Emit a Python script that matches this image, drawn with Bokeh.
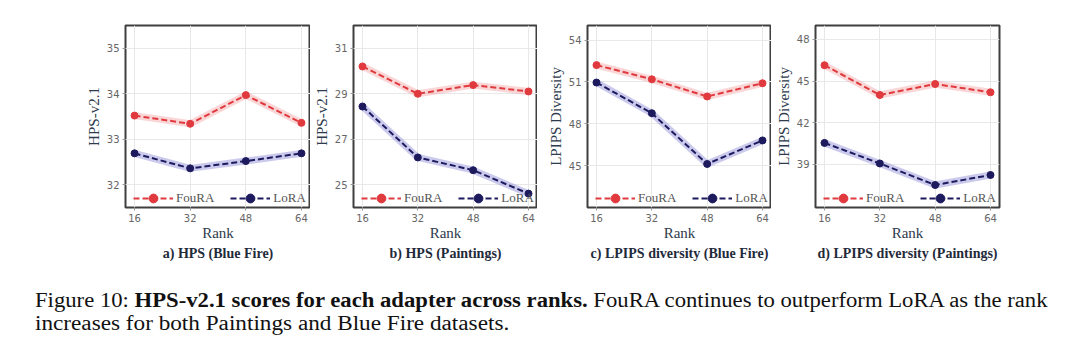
from bokeh.plotting import figure
from bokeh.layouts import row, column
from bokeh.models import Range1d, FixedTicker, Legend, LegendItem, Title, Div
from bokeh.embed import file_html
from bokeh.resources import INLINE

# ---------------- data ----------------
ranks = [16, 32, 48, 64]

hps_bluefire_foura = [33.52, 33.34, 33.97, 33.36]
hps_bluefire_lora = [32.69, 32.36, 32.52, 32.69]

hps_paintings_foura = [30.20, 29.00, 29.38, 29.10]
hps_paintings_lora = [28.44, 26.20, 25.64, 24.61]

lpips_bluefire_foura = [52.21, 51.19, 49.96, 50.91]
lpips_bluefire_lora = [50.96, 48.76, 45.12, 46.81]

lpips_paintings_foura = [46.14, 44.00, 44.79, 44.19]
lpips_paintings_lora = [40.55, 39.07, 37.52, 38.24]

titles = ["a) HPS (Blue Fire)", "b) HPS (Paintings)",
          "c) LPIPS diversity (Blue Fire)", "d) LPIPS diversity (Paintings)"]
ylabels = ["HPS-v2.1", "HPS-v2.1", "LPIPS Diversity", "LPIPS Diversity"]
yticks = [[32, 33, 34, 35], [25, 27, 29, 31], [45, 48, 51, 54], [39, 42, 45, 48]]
yranges = [(31.5, 35.5), (24.0, 32.0), (42.0, 55.05), (35.9, 49.0)]
series_names = ["FouRA", "LoRA"]

caption_label = "Figure 10:"
caption_bold = "HPS-v2.1 scores for each adapter across ranks."
caption_line1_rest = "FouRA continues to outperform LoRA as the rank"
caption_line2 = "increases for both Paintings and Blue Fire datasets."

# ---------------- style ----------------
RED = "#e03a3f"
RED_GLOW = "#f08a8c"
NAVY = "#1d1b5e"
NAVY_GLOW = "#8c8ad6"
SERIF = "Liberation Serif"
SANS = "DejaVu Sans"

layout_specs = [
    dict(left=125, fw=185, right=0),
    dict(left=40, fw=184, right=0),
    dict(left=50, fw=184, right=0),
    dict(left=44, fw=184, right=84),
]

data = [
    (hps_bluefire_foura, hps_bluefire_lora),
    (hps_paintings_foura, hps_paintings_lora),
    (lpips_bluefire_foura, lpips_bluefire_lora),
    (lpips_paintings_foura, lpips_paintings_lora),
]


def make_panel(i):
    spec = layout_specs[i]
    foura, lora = data[i]
    p = figure(frame_width=spec["fw"], frame_height=182,
               x_range=Range1d(13.4, 66.6), y_range=Range1d(*yranges[i]),
               output_backend="svg", toolbar_location=None,
               min_border_left=spec["left"], min_border_right=spec["right"],
               min_border_top=25, min_border_bottom=63)
    p.background_fill_color = "white"
    p.border_fill_color = "white"
    p.outline_line_color = "#3f3f3f"
    p.outline_line_width = 2

    p.xaxis.ticker = FixedTicker(ticks=ranks)
    p.yaxis.ticker = FixedTicker(ticks=yticks[i])
    for ax in (p.xaxis[0], p.yaxis[0]):
        ax.axis_line_color = None
        ax.major_tick_line_color = "#999999"
        ax.major_tick_out = 3
        ax.major_tick_in = 0
        ax.minor_tick_line_color = None
        ax.major_label_text_font = SANS
        ax.major_label_text_font_size = "10px"
        ax.major_label_text_color = "#666666"
        ax.axis_label_text_font = SERIF
        ax.axis_label_text_font_style = "normal"
        ax.axis_label_text_font_size = "15px"
        ax.axis_label_text_color = "#2e3b4c"
    p.xaxis.axis_label = "Rank"
    p.xaxis.major_label_standoff = 3
    p.xaxis.axis_label_standoff = 0
    p.yaxis.axis_label = ylabels[i]
    p.yaxis.major_label_standoff = 3
    p.yaxis.axis_label_standoff = 2

    p.grid.grid_line_color = "#e8e8e8"
    p.grid.grid_line_width = 1

    # glow bands
    p.line(ranks, foura, line_color=RED_GLOW, line_width=7, line_alpha=0.35)
    p.line(ranks, lora, line_color=NAVY_GLOW, line_width=7, line_alpha=0.45)
    # dashed lines + markers
    lf = p.line(ranks, foura, line_color=RED, line_width=2, line_dash="6 3")
    sf = p.scatter(ranks, foura, size=7, fill_color=RED, line_color=RED)
    ll = p.line(ranks, lora, line_color=NAVY, line_width=2, line_dash="6 3")
    sl = p.scatter(ranks, lora, size=7, fill_color=NAVY, line_color=NAVY)

    legend = Legend(items=[LegendItem(label=series_names[0], renderers=[lf, sf]),
                           LegendItem(label=series_names[1], renderers=[ll, sl])],
                    location=(8, -2), orientation="horizontal",
                    background_fill_alpha=0, border_line_alpha=0,
                    padding=0, margin=0, spacing=16,
                    glyph_width=40, glyph_height=22, label_height=22,
                    label_standoff=3,
                    label_text_font=SERIF, label_text_font_size="13px",
                    label_text_color="#555555")
    p.add_layout(legend)

    t = Title(text=titles[i], align="center", text_font=SERIF,
              text_font_style="bold", text_font_size="14px",
              text_color="#1f2a3a", standoff=0)
    p.add_layout(t, "below")
    return p


panels = [make_panel(i) for i in range(4)]


def line_style(scale):
    return (f"white-space: nowrap; transform: scaleX({scale}); "
            "transform-origin: 0 0; height: 23px;")


caption_html = (
    '<div style="font-family: \'Liberation Serif\', serif; font-size: 20px; '
    'line-height: 23px; color: #111; padding-top: 14px; padding-left: 30px;">'
    f'<div style="{line_style(1.134)}">'
    f'{caption_label} <b>{caption_bold}</b> {caption_line1_rest}</div>'
    f'<div style="{line_style(1.16)}">{caption_line2}</div>'
    '</div>'
)
caption = Div(text=caption_html, width=1080, height=79)

layout = column(row(*panels, spacing=0), caption, spacing=0)

open("out.html", "w").write(file_html(layout, INLINE))
